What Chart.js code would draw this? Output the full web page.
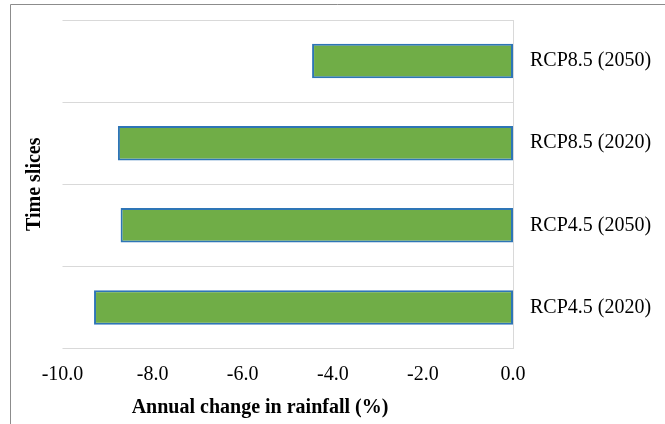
<!DOCTYPE html>
<html>
<head>
<meta charset="utf-8">
<script src="https://cdn.jsdelivr.net/npm/chart.js@4.4.1/dist/chart.umd.min.js"></script>
<style>
  html, body { margin: 0; padding: 0; background: #ffffff; }
  #wrap { width: 665px; height: 424px; position: relative; }
</style>
</head>
<body>
<div id="wrap"><canvas id="c" width="665" height="424"></canvas></div>
<script>
const categories = ["RCP8.5 (2050)", "RCP8.5 (2020)", "RCP4.5 (2050)", "RCP4.5 (2020)"];
const rainfallChange = [-4.46, -8.77, -8.71, -9.30];
const xTitle = "Annual change in rainfall (%)";
const yTitle = "Time slices";

const frame = {
  id: 'frame',
  beforeDraw(chart) {
    const ctx = chart.ctx;
    ctx.save();
    ctx.strokeStyle = '#8c8c8c';
    ctx.lineWidth = 1;
    ctx.beginPath();
    ctx.moveTo(10.5, 424);
    ctx.lineTo(10.5, 4.5);
    ctx.lineTo(665, 4.5);
    ctx.stroke();
    ctx.restore();
  },
  afterDraw(chart) {
    const ctx = chart.ctx;
    const a = chart.chartArea;
    ctx.save();
    ctx.fillStyle = '#000';
    ctx.font = 'bold 20px "Liberation Serif"';
    ctx.textAlign = 'center';
    ctx.textBaseline = 'middle';
    ctx.fillText(xTitle, 260, 408);
    ctx.translate(35, (a.top + a.bottom) / 2);
    ctx.rotate(-Math.PI / 2);
    ctx.fillText(yTitle, 0, 0);
    ctx.restore();
  }
};

new Chart(document.getElementById('c'), {
  type: 'bar',
  data: {
    labels: categories,
    datasets: [{
      data: rainfallChange,
      backgroundColor: '#70AD47',
      borderColor: '#2E75B6',
      borderWidth: 2,
      borderSkipped: false,
      barPercentage: 0.42,
      categoryPercentage: 1
    }]
  },
  options: {
    indexAxis: 'y',
    responsive: false,
    animation: false,
    layout: { padding: { left: 62.5, top: 20, right: 0, bottom: 0 } },
    plugins: { legend: { display: false }, tooltip: { enabled: false } },
    scales: {
      x: {
        min: -10, max: 0,
        afterFit(s) { s.height = 75.5; s.paddingLeft = 0; s.paddingRight = 0; },
        grid: { display: false, drawTicks: false },
        border: { display: false },
        ticks: {
          stepSize: 2,
          padding: 14,
          color: '#000',
          font: { family: 'Liberation Serif', size: 20 },
          callback: v => Number(v).toFixed(1),
          maxRotation: 0
        }
      },
      y: {
        position: 'right',
        afterFit(s) { s.width = 152; s.paddingTop = 0; s.paddingBottom = 0; },
        grid: { offset: true, color: '#d9d9d9', drawTicks: false, lineWidth: 1 },
        border: { display: true, color: '#d9d9d9' },
        ticks: {
          padding: 17,
          color: '#000',
          font: { family: 'Liberation Serif', size: 20 }
        }
      }
    }
  },
  plugins: [frame]
});
</script>
</body>
</html>
